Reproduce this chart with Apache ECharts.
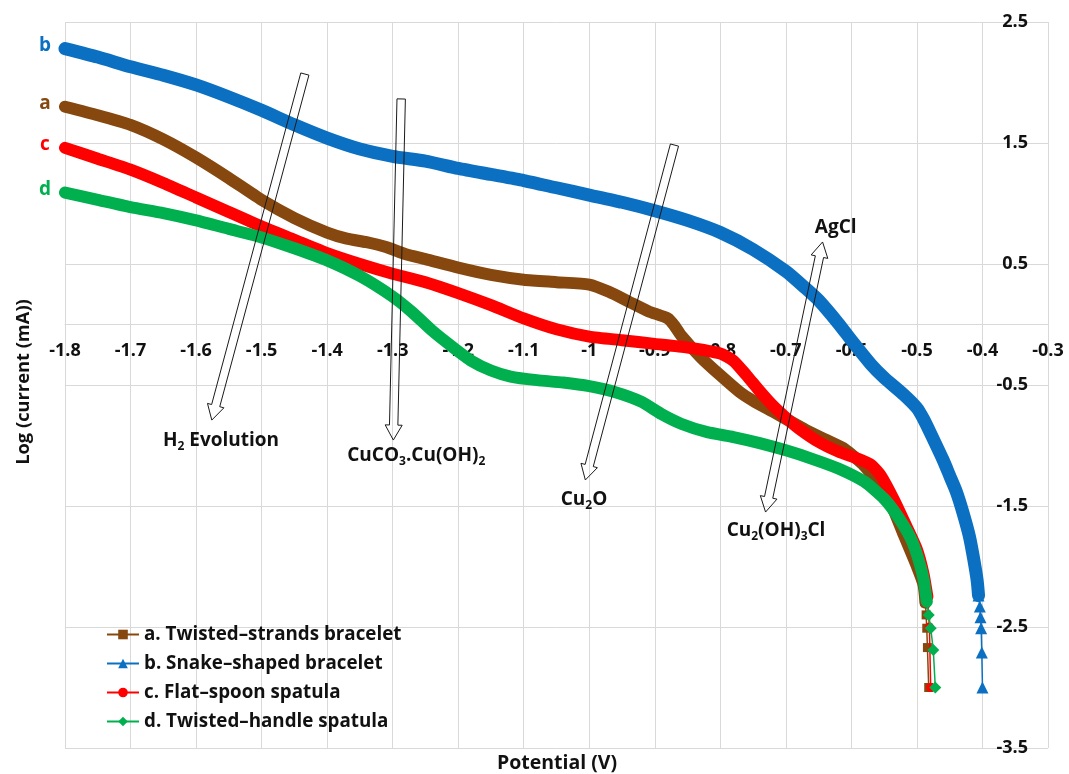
<!DOCTYPE html>
<html>
<head>
<meta charset="utf-8">
<script src="https://cdn.jsdelivr.net/npm/echarts@6/dist/echarts.min.js"></script>
<style>
  html, body { margin: 0; padding: 0; background: #fff; }
  #chart { width: 1069px; height: 774px; }
</style>
</head>
<body>
<div id="chart"></div>
<script>
// Polarisation curves: potential (V) vs log(current, mA)
const seriesNames = [
  'a. Twisted\u2013strands bracelet',
  'b. Snake\u2013shaped bracelet',
  'c. Flat\u2013spoon spatula',
  'd. Twisted\u2013handle spatula'
];
const seriesTags = ['a', 'b', 'c', 'd'];

const curveA = [
  [-1.80, 1.80], [-1.75, 1.73], [-1.70, 1.65], [-1.65, 1.53], [-1.60, 1.38],
  [-1.55, 1.21], [-1.50, 1.03], [-1.45, 0.88], [-1.40, 0.76], [-1.37, 0.71],
  [-1.34, 0.68], [-1.31, 0.64], [-1.28, 0.58], [-1.25, 0.54], [-1.20, 0.47],
  [-1.15, 0.41], [-1.10, 0.37], [-1.05, 0.35], [-1.00, 0.33], [-0.97, 0.27],
  [-0.94, 0.19], [-0.91, 0.11], [-0.88, 0.05], [-0.87, -0.01], [-0.86, -0.09],
  [-0.83, -0.27], [-0.80, -0.42], [-0.77, -0.56], [-0.75, -0.63], [-0.72, -0.72],
  [-0.70, -0.78], [-0.67, -0.87], [-0.64, -0.95], [-0.61, -1.03], [-0.58, -1.17],
  [-0.56, -1.31], [-0.54, -1.48], [-0.52, -1.74], [-0.50, -2.00], [-0.49, -2.15],
  [-0.487, -2.30], [-0.486, -2.40], [-0.485, -2.51], [-0.484, -2.67], [-0.482, -3.00]
];
const curveB = [
  [-1.80, 2.28], [-1.75, 2.21], [-1.70, 2.13], [-1.65, 2.06], [-1.60, 1.98],
  [-1.55, 1.88], [-1.50, 1.77], [-1.45, 1.65], [-1.40, 1.54], [-1.35, 1.45],
  [-1.30, 1.39], [-1.25, 1.35], [-1.20, 1.29], [-1.15, 1.24], [-1.10, 1.19],
  [-1.05, 1.13], [-1.00, 1.07], [-0.95, 1.01], [-0.90, 0.94], [-0.85, 0.86],
  [-0.80, 0.76], [-0.75, 0.62], [-0.70, 0.44], [-0.67, 0.30], [-0.65, 0.20],
  [-0.62, 0.01], [-0.60, -0.13], [-0.57, -0.33], [-0.55, -0.44], [-0.52, -0.58],
  [-0.50, -0.69], [-0.49, -0.78], [-0.48, -0.89], [-0.46, -1.12], [-0.45, -1.25],
  [-0.44, -1.38], [-0.43, -1.55], [-0.42, -1.75], [-0.413, -1.95], [-0.408, -2.12],
  [-0.406, -2.24], [-0.404, -2.33], [-0.403, -2.42], [-0.402, -2.51], [-0.401, -2.71],
  [-0.400, -3.00]
];
const curveC = [
  [-1.80, 1.46], [-1.75, 1.37], [-1.70, 1.28], [-1.65, 1.17], [-1.60, 1.05],
  [-1.55, 0.93], [-1.50, 0.81], [-1.45, 0.70], [-1.40, 0.59], [-1.35, 0.50],
  [-1.30, 0.42], [-1.25, 0.35], [-1.20, 0.26], [-1.15, 0.16], [-1.10, 0.05],
  [-1.05, -0.04], [-1.00, -0.10], [-0.95, -0.13], [-0.90, -0.16], [-0.85, -0.19],
  [-0.80, -0.24], [-0.78, -0.30], [-0.76, -0.42], [-0.74, -0.55], [-0.72, -0.67],
  [-0.70, -0.77], [-0.68, -0.86], [-0.65, -0.97], [-0.62, -1.05], [-0.59, -1.11],
  [-0.57, -1.16], [-0.555, -1.25], [-0.535, -1.45], [-0.515, -1.68], [-0.50, -1.86],
  [-0.49, -2.06], [-0.484, -2.25], [-0.481, -2.50], [-0.479, -3.00]
];
const curveD = [
  [-1.80, 1.09], [-1.75, 1.03], [-1.70, 0.97], [-1.65, 0.92], [-1.60, 0.86],
  [-1.55, 0.79], [-1.50, 0.72], [-1.45, 0.63], [-1.40, 0.53], [-1.35, 0.40],
  [-1.30, 0.23], [-1.27, 0.10], [-1.24, -0.05], [-1.21, -0.18], [-1.18, -0.30],
  [-1.15, -0.38], [-1.12, -0.43], [-1.08, -0.46], [-1.04, -0.48], [-1.00, -0.51],
  [-0.96, -0.56], [-0.92, -0.64], [-0.89, -0.74], [-0.86, -0.82], [-0.82, -0.89],
  [-0.78, -0.93], [-0.74, -0.98], [-0.70, -1.04], [-0.66, -1.11], [-0.62, -1.19],
  [-0.58, -1.30], [-0.55, -1.44], [-0.53, -1.58], [-0.51, -1.76], [-0.50, -1.90],
  [-0.49, -2.10], [-0.485, -2.29], [-0.482, -2.40], [-0.479, -2.51], [-0.475, -2.69],
  [-0.472, -3.00]
];
const curves = [curveA, curveB, curveC, curveD];

// Annotation arrows (ends in axis units) and their captions
const arrowsSingle = [
  { from: [-1.434, 2.07], to: [-1.576, -0.79] },   // H2 evolution
  { from: [-1.287, 1.864], to: [-1.299, -0.955] }, // CuCO3.Cu(OH)2
  { from: [-0.870, 1.483], to: [-1.006, -1.285] }  // Cu2O
];
const arrowsDouble = [
  { from: [-0.731, -1.55], to: [-0.644, 0.682] }   // AgCl / Cu2(OH)3Cl
];
const captions = [
  { at: [-1.562, -0.963], text: '{m|H}{s|2}{m| Evolution}' },
  { at: [-1.264, -1.087], text: '{m|CuCO}{s|3}{m|.Cu(OH)}{s|2}' },
  { at: [-1.008, -1.450], text: '{m|Cu}{s|2}{m|O}' },
  { at: [-0.715, -1.707], text: '{m|Cu}{s|2}{m|(OH)}{s|3}{m|Cl}' },
  { at: [-0.624, 0.797], text: '{m|AgCl}' }
];

const FONT = '"Open Sans", Lato, sans-serif';
const TEXT = '#111';
const colors = ['#86480f', '#0b70c2', '#ff0000', '#00b04f'];
const symbols = ['rect', 'triangle', 'circle', 'diamond'];
const symbolSizes = [9, 12, 9, 12];
const bandWidths = [12, 13, 12, 12];
const TAIL_FROM = -2.2; // below this the readings are sparse and drawn as markers

const chart = echarts.init(document.getElementById('chart'), null, { renderer: 'canvas' });

const series = [];
curves.forEach((pts, i) => {
  const k = pts.findIndex(p => p[1] <= TAIL_FROM);
  const body = pts.slice(0, k + 1);
  const tail = pts.slice(k);
  // sparse tail: thin line with markers (also provides the legend icon)
  series.push({
    name: seriesNames[i], type: 'line', data: tail, clip: false,
    symbol: symbols[i], symbolSize: symbolSizes[i], showSymbol: true, showAllSymbol: true,
    itemStyle: { color: colors[i] },
    lineStyle: { color: colors[i], width: 1.5 },
    z: 3 + i * 2, animation: false, silent: true
  });
  // dense body: thick band
  series.push({
    name: seriesNames[i], type: 'line', data: body, clip: false,
    symbol: 'none', showSymbol: false, smooth: 0.2,
    itemStyle: { color: colors[i] },
    lineStyle: { color: colors[i], width: bandWidths[i], cap: 'round', join: 'round' },
    z: 2 + i * 2, animation: false, silent: true
  });
});

const gridColor = '#d9d9d9';
const tickFont = { color: TEXT, fontSize: 18, fontWeight: 'bold', fontFamily: FONT };
chart.setOption({
  animation: false,
  backgroundColor: '#fff',
  grid: { left: 65, right: 21, top: 22, bottom: 26, containLabel: false, outerBoundsMode: 'none' },
  xAxis: {
    type: 'value', min: -1.8, max: -0.3, interval: 0.1,
    axisLine: { show: true, onZero: false, lineStyle: { color: gridColor, width: 1 } },
    axisTick: { show: false },
    axisLabel: Object.assign({ margin: 17, showMinLabel: true, showMaxLabel: true, hideOverlap: false }, tickFont),
    splitLine: { show: true, lineStyle: { color: gridColor, width: 1 } }
  },
  yAxis: {
    type: 'value', position: 'right', min: -3.5, max: 2.5, interval: 1,
    axisLine: { show: false },
    axisTick: { show: false },
    axisLabel: Object.assign({ inside: true, margin: 20, showMinLabel: true, showMaxLabel: true, hideOverlap: false }, tickFont),
    splitLine: { show: true, lineStyle: { color: gridColor, width: 1 } }
  },
  legend: {
    data: seriesNames, orient: 'vertical', left: 101, top: 620,
    itemWidth: 32, itemHeight: 12, itemGap: 10,
    textStyle: { color: TEXT, fontSize: 18.8, fontWeight: 'bold', fontFamily: FONT },
    selectedMode: false
  },
  series: series
});

function px(p) { return chart.convertToPixel({ gridIndex: 0 }, p); }

// the potential axis crosses the current axis at log(i) = 0
const zeroY = px([-1.8, 0])[1];
const bottomY = px([-1.8, -3.5])[1];
chart.setOption({ xAxis: { offset: zeroY - bottomY } });

// ---- annotations drawn in pixel space from axis coordinates ----
function arrowHead(tip, d, n, w, hw, hl) {
  const bx = tip[0] - d[0] * hl, by = tip[1] - d[1] * hl;
  return {
    inner: [[bx + n[0] * w, by + n[1] * w], [bx - n[0] * w, by - n[1] * w]],
    shape: [[bx + n[0] * hw, by + n[1] * hw], tip, [bx - n[0] * hw, by - n[1] * hw]]
  };
}
function hollowArrow(fromData, toData, both) {
  const a = px(fromData), b = px(toData);
  const len = Math.hypot(b[0] - a[0], b[1] - a[1]);
  const d = [(b[0] - a[0]) / len, (b[1] - a[1]) / len];
  const n = [-d[1], d[0]];
  const w = 4.2, hw = 8.5, hl = 15;
  const hb = arrowHead(b, d, n, w, hw, hl);
  let pts;
  if (both) {
    const ha = arrowHead(a, [-d[0], -d[1]], [-n[0], -n[1]], w, hw, hl);
    pts = [ha.inner[1], hb.inner[0], hb.shape[0], hb.shape[1], hb.shape[2], hb.inner[1],
           ha.inner[0], ha.shape[0], ha.shape[1], ha.shape[2]];
  } else {
    pts = [[a[0] + n[0] * w, a[1] + n[1] * w], hb.inner[0], hb.shape[0], hb.shape[1], hb.shape[2],
           hb.inner[1], [a[0] - n[0] * w, a[1] - n[1] * w]];
  }
  return {
    type: 'polygon', z: 100, silent: true,
    shape: { points: pts },
    style: { fill: 'none', stroke: '#1a1a1a', lineWidth: 1 }
  };
}

const richStyle = {
  m: { fontSize: 19, fontWeight: 'bold', fontFamily: FONT, fill: TEXT, lineHeight: 24 },
  s: { fontSize: 12, fontWeight: 'bold', fontFamily: FONT, fill: TEXT, lineHeight: 12, verticalAlign: 'bottom' }
};

const graphics = [];
arrowsSingle.forEach(a => graphics.push(hollowArrow(a.from, a.to, false)));
arrowsDouble.forEach(a => graphics.push(hollowArrow(a.from, a.to, true)));
captions.forEach(c => {
  const p = px(c.at);
  graphics.push({
    type: 'text', x: p[0], y: p[1], z: 101, silent: true,
    style: { text: c.text, rich: richStyle, align: 'center', verticalAlign: 'middle',
             textAlign: 'center', textVerticalAlign: 'middle' }
  });
});
// curve tags at the start of each curve
curves.forEach((pts, i) => {
  const p = px(pts[0]);
  graphics.push({
    type: 'text', x: p[0] - 20, y: p[1] - 3, z: 101, silent: true,
    style: { text: seriesTags[i], fill: colors[i], font: 'bold 19px ' + FONT,
             align: 'center', verticalAlign: 'middle', textAlign: 'center', textVerticalAlign: 'middle' }
  });
});
// axis titles
graphics.push({
  type: 'text', x: 24, y: 382, rotation: Math.PI / 2, z: 101, silent: true,
  style: { text: 'Log (current (mA))', fill: TEXT, font: 'bold 18.3px ' + FONT,
           align: 'center', verticalAlign: 'middle', textAlign: 'center', textVerticalAlign: 'middle' }
});
graphics.push({
  type: 'text', x: 557, y: 763, z: 101, silent: true,
  style: { text: 'Potential (V)', fill: TEXT, font: 'bold 19.5px ' + FONT,
           align: 'center', verticalAlign: 'middle', textAlign: 'center', textVerticalAlign: 'middle' }
});

chart.setOption({ graphic: graphics });
</script>
</body>
</html>
